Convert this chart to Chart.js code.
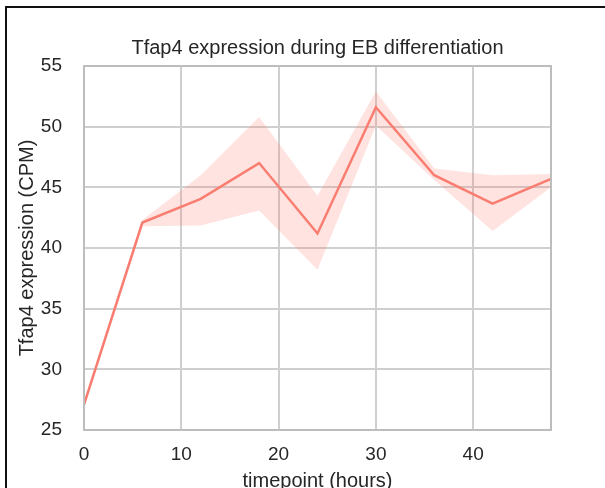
<!DOCTYPE html>
<html>
<head>
<meta charset="utf-8">
<script src="https://cdn.jsdelivr.net/npm/chart.js@4"></script>
<style>
  html, body { margin: 0; padding: 0; background: #fff; }
  #wrap { position: relative; width: 605px; height: 488px; overflow: hidden; }
  #frame { position: absolute; left: 5px; top: 6px; width: 610px; height: 500px;
           border-top: 2px solid #111; border-left: 2px solid #111; pointer-events: none; }
</style>
</head>
<body>
<div id="wrap">
  <canvas id="tfapChart" width="605" height="488"></canvas>
  <div id="frame"></div>
</div>
<script>
// Tfap4 CPM over the EB differentiation time course
const timepoints = [0, 6, 12, 18, 24, 30, 36, 42, 48];
const meanCpm  = [27.1, 42.1, 44.05, 47.0, 41.2, 51.6, 46.0, 43.65, 45.7];
const upperCpm = [27.1, 42.3, 46.0, 50.8, 44.3, 52.9, 46.55, 46.0, 46.1];
const lowerCpm = [27.1, 41.8, 41.85, 43.1, 38.2, 50.1, 45.6, 41.4, 45.0];
const xTicks = [0, 10, 20, 30, 40];
const yTicks = [25, 30, 35, 40, 45, 50, 55];

const pts = arr => timepoints.map((t, i) => ({ x: t, y: arr[i] }));

const lineColor = '#f97d70';
const bandColor = 'rgba(250, 128, 114, 0.22)';
const gridColor = '#cfcfcf';
const textColor = '#262626';
const fontFamily = '"Liberation Sans", Arial, sans-serif';

// outline around the plot area
const plotFrame = {
    id: 'plotFrame',
    afterDatasetsDraw(chart) {
        const { ctx, chartArea: a } = chart;
        ctx.save();
        ctx.strokeStyle = '#bdbdbd';
        ctx.lineWidth = 2;
        ctx.strokeRect(a.left, a.top, a.right - a.left, a.bottom - a.top);
        ctx.restore();
    }
};

const ctx = document.getElementById('tfapChart').getContext('2d');
new Chart(ctx, {
    type: 'line',
    data: {
        datasets: [
            { data: pts(lowerCpm), borderWidth: 0, pointRadius: 0, fill: false, borderColor: 'transparent' },
            { data: pts(upperCpm), borderWidth: 0, pointRadius: 0, fill: '-1', borderColor: 'transparent', backgroundColor: bandColor },
            { data: pts(meanCpm), borderColor: lineColor, borderWidth: 2.5, pointRadius: 0, fill: false, tension: 0 }
        ]
    },
    plugins: [plotFrame],
    options: {
        responsive: false,
        animation: false,
        layout: { padding: { left: 0, right: 54, top: 0, bottom: 0 } },
        plugins: {
            legend: { display: false },
            tooltip: { enabled: false },
            title: {
                display: true,
                fullSize: false,
                text: 'Tfap4 expression during EB differentiation',
                color: textColor,
                font: { family: fontFamily, size: 20, weight: 'normal' },
                padding: { top: 36, bottom: 6 }
            }
        },
        scales: {
            x: {
                type: 'linear',
                min: 0,
                max: 48,
                afterBuildTicks: s => { s.ticks = xTicks.map(v => ({ value: v })); },
                afterFit: s => { s.height = 58; },
                grid: { color: gridColor, lineWidth: 2, drawTicks: false },
                border: { display: false },
                ticks: { color: textColor, padding: 13, font: { family: fontFamily, size: 19 } },
                title: {
                    display: true,
                    text: 'timepoint (hours)',
                    color: textColor,
                    font: { family: fontFamily, size: 20 },
                    padding: { top: 0, bottom: -5 }
                }
            },
            y: {
                min: 25,
                max: 55,
                afterBuildTicks: s => { s.ticks = yTicks.map(v => ({ value: v })); },
                afterFit: s => { s.width = 84; },
                grid: { color: gridColor, lineWidth: 2, drawTicks: false },
                border: { display: false },
                ticks: { color: textColor, padding: 22, font: { family: fontFamily, size: 19 } },
                title: {
                    display: true,
                    text: 'Tfap4 expression (CPM)',
                    color: textColor,
                    font: { family: fontFamily, size: 20 },
                    padding: { top: 15, bottom: 0 }
                }
            }
        }
    }
});
</script>
</body>
</html>
